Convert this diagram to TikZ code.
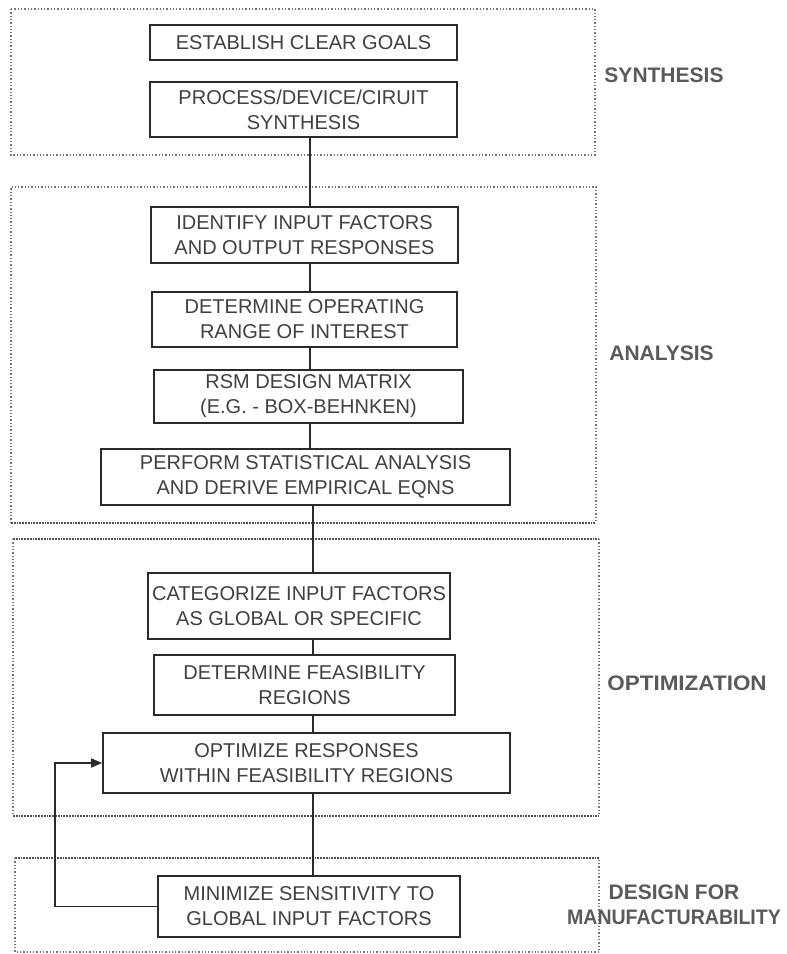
\documentclass[tikz,border=0pt]{standalone}
\usepackage{fontspec}
\usepackage{graphicx}
\setmainfont{Liberation Sans}
\usetikzlibrary{arrows.meta}
\definecolor{boxline}{HTML}{2A2A2A}
\definecolor{boxtext}{HTML}{404040}
\definecolor{framegray}{HTML}{777777}
\definecolor{framedark}{HTML}{505050}
\definecolor{labelgray}{HTML}{5A5A5A}
\begin{document}
\begin{tikzpicture}[x=1pt,y=-1pt,
  stepbox/.style={draw=boxline, line width=1.7pt, fill=white, align=center, inner sep=0pt,
    text=boxtext, font=\fontsize{20}{25}\selectfont},
  frame/.style={draw=framegray, line width=1.3pt, dotted},
  heavyedge/.style={draw=framedark, line width=1.8pt, densely dotted},
  phase/.style={align=center, text=labelgray, inner sep=0pt, font=\bfseries\fontsize{21}{25}\selectfont},
  link/.style={draw=boxline, line width=1.5pt}]
\useasboundingbox (0,0) rectangle (787,954);

% phase frames
\draw[frame] (11,9) rectangle (595,155);
\draw[frame] (11,523) -- (11,187) -- (596,187) -- (596,523);
\draw[heavyedge] (11,523) -- (596,523);
\draw[heavyedge] (13,539) -- (599,539);
\draw[frame] (13,539) -- (13,816);
\draw[frame] (599,539) -- (599,816);
\draw[heavyedge] (13,816) -- (599,816);
\draw[heavyedge] (15,858) -- (599,858);
\draw[frame] (15,858) -- (15,952) -- (599,952) -- (599,858);

% steps
\node[stepbox, minimum width=307pt, minimum height=35pt] (goals) at (303.5,42.5) {ESTABLISH CLEAR GOALS};
\node[stepbox, minimum width=307pt, minimum height=55pt] (synth) at (303.5,109.5) {PROCESS/DEVICE/CIRUIT\\SYNTHESIS};
\node[stepbox, minimum width=307pt, minimum height=56pt] (identify) at (304.5,235) {IDENTIFY INPUT FACTORS\\AND OUTPUT RESPONSES};
\node[stepbox, minimum width=305pt, minimum height=55pt] (operating) at (304.5,319.5) {DETERMINE OPERATING\\RANGE OF INTEREST};
\node[stepbox, minimum width=309pt, minimum height=53pt] (rsm) at (308.5,396.5) {RSM DESIGN MATRIX\\(E.G. - BOX-BEHNKEN)};
\node[stepbox, minimum width=409pt, minimum height=56pt] (perform) at (305.5,477) {PERFORM STATISTICAL ANALYSIS\\AND DERIVE EMPIRICAL EQNS};
\node[stepbox, minimum width=302pt, minimum height=66pt] (categorize) at (299,606) {CATEGORIZE INPUT FACTORS\\AS GLOBAL OR SPECIFIC};
\node[stepbox, minimum width=301pt, minimum height=60pt] (feasibility) at (304.5,685) {DETERMINE FEASIBILITY\\REGIONS};
\node[stepbox, minimum width=407pt, minimum height=60pt] (optimize) at (306.5,763) {OPTIMIZE RESPONSES\\WITHIN FEASIBILITY REGIONS};
\node[stepbox, minimum width=302pt, minimum height=61pt] (minimize) at (309,906.5) {MINIMIZE SENSITIVITY TO\\GLOBAL INPUT FACTORS};

% phase labels
\node[phase] (lsyn) at (664,75) {SYNTHESIS};
\node[phase] (lana) at (661.5,353) {ANALYSIS};
\node[phase] (lopt) at (687,683) {\scalebox{1.07}[1]{OPTIMIZATION}};
\node[phase] (ldfm) at (674,904.5) {DESIGN FOR\\\scalebox{0.93}[1]{MANUFACTURABILITY}};

% connectors
\coordinate (sp) at (310,0);
\coordinate (sq) at (313,0);
\draw[link] (synth.south -| sp) -- (identify.north -| sp);
\draw[link] (identify.south -| sp) -- (operating.north -| sp);
\draw[link] (operating.south -| sp) -- (rsm.north -| sp);
\draw[link] (rsm.south -| sp) -- (perform.north -| sp);
\draw[link] (perform.south -| sq) -- (categorize.north -| sq);
\draw[link] (categorize.south -| sq) -- (feasibility.north -| sq);
\draw[link] (feasibility.south -| sq) -- (optimize.north -| sq);
\draw[link] (optimize.south -| sq) -- (minimize.north -| sq);
\coordinate (fb) at (55,763);
\draw[link, -{Triangle[length=11pt,width=9pt]}] (minimize.west) -| (fb) -- (optimize.west);
\end{tikzpicture}
\end{document}
